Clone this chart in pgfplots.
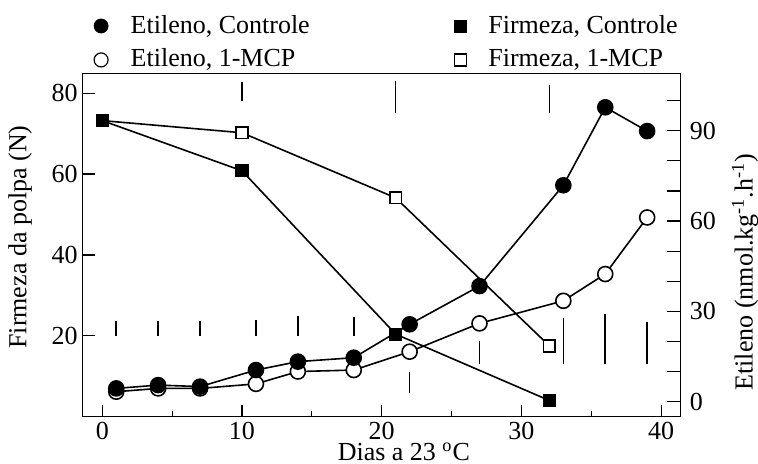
\documentclass[border=0pt]{standalone}
\usepackage{fontspec}
\setmainfont{Liberation Serif}
\usepackage{pgfplots}
\pgfplotsset{compat=1.18}

\pgfplotstableread{
x y
0 73.2
10 70.2
21 54.1
32 17.5
}\firmmcp
\pgfplotstableread{
x y
0 73.2
10 60.8
21 20.4
32 4.0
}\firmctrl
\pgfplotstableread{
x y
1 4.4
4 5.5
7 5.0
11 10.5
14 13.3
18 14.6
22 25.7
27 38.4
33 71.9
36 97.8
39 89.9
}\etictrl
\pgfplotstableread{
x y
1 3.3
4 4.4
7 4.4
11 5.9
14 10.0
18 10.5
22 16.6
27 26.0
33 33.5
36 42.4
39 61.2
}\etimcp

\begin{document}
\fontsize{13}{15}\selectfont
\begin{tikzpicture}
\pgfplotsset{
  common/.style={
    scale only axis, width=299pt, height=171.7pt,
    xmin=-1.4, xmax=41.4,
    tick align=inside,
    /pgf/number format/assume math mode=true,
    tick label style={font=\fontsize{13}{15}\selectfont},
    label style={font=\fontsize{13}{15}\selectfont},
    axis line style={line width=0.7pt},
    every tick/.style={black, line width=0.6pt},
    clip=false,
  },
  circ/.style={mark=*, mark size=3.75pt, mark options={xscale=1.33, line width=0.7pt}},
  sq/.style={mark=square*, mark size=2.9pt, mark options={xscale=1.5, line width=0.7pt}},
  limgc/.style={legend image code/.code={\draw[##1] plot coordinates {(0pt,0pt)}; \path (0pt,0pt) (12.5pt,0pt);}},
  limgs/.style={legend image code/.code={\draw[##1] plot coordinates {(0pt,0pt)}; \path (0pt,0pt) (11.5pt,0pt);}},
}
\begin{axis}[common, name=main,
  ymin=0, ymax=84.9,
  xtick={0,10,20,30,40}, minor xtick={5,15,25,35}, xtick pos=bottom,
  ytick={20,40,60,80}, ytick pos=left,
  yticklabel style={xshift=2pt},
  xticklabel style={yshift=2pt},
  major tick length=6pt, minor tick length=3pt,
  xlabel={Dias a 23 \textsuperscript{o}C},
  every axis x label/.style={at={(axis description cs:0.537,-0.128)}, anchor=base},
  ylabel={Firmeza da polpa (N)},
  every axis y label/.style={at={(axis description cs:-0.1048,0.523)}, rotate=90, anchor=center},
]
\addplot[black, line width=0.8pt, sq, mark options={fill=white}] table {\firmmcp};
\addplot[black, line width=0.8pt, sq, mark options={fill=black}] table {\firmctrl};
\addplot[black, line width=0.8pt, unbounded coords=jump] coordinates {
  (10,82.8) (10,78.1) (10,nan)
  (21,83.0) (21,75.1) (21,nan)
  (32,82.0) (32,75.1)
};
\end{axis}
\begin{axis}[common,
  ymin=-5, ymax=109.1,
  axis y line*=right, axis x line=none,
  ytick={0,30,60,90}, minor ytick={10,20,40,50,70,80,100},
  major tick length=7pt, minor tick length=7pt,
  ylabel={Etileno (nmol.kg\textsuperscript{-1}.h\textsuperscript{-1})},
  every axis y label/.style={at={(axis description cs:1.1075,0.421)}, rotate=90, anchor=center},
  legend columns=2, legend cell align=left,
  legend style={draw=none, fill=none, font=\fontsize{13}{15}\selectfont,
    at={(axis description cs:0,1)}, anchor=south west, xshift=5.5pt, yshift=-1pt,
    inner sep=0pt, row sep=2pt,
    /tikz/every even column/.append style={column sep=70.5pt}},
]
\addplot[black, line width=0.8pt, circ, mark options={fill=white}, forget plot] table {\etimcp};
\addplot[black, line width=0.8pt, circ, mark options={fill=black}, forget plot] table {\etictrl};
\addplot[black, line width=0.8pt, unbounded coords=jump, forget plot] coordinates {
  (1,21.8) (1,26.9) (1,nan)
  (4,21.8) (4,26.9) (4,nan)
  (7,21.8) (7,26.9) (7,nan)
  (11,21.8) (11,27.1) (11,nan)
  (14,21.8) (14,28.5) (14,nan)
  (18,21.8) (18,28.0) (18,nan)
  (22,3.0) (22,10.0) (22,nan)
  (27,12.5) (27,20.3) (27,nan)
  (33,12.4) (33,27.7) (33,nan)
  (36,12.4) (36,29.1) (36,nan)
  (39,12.4) (39,26.4)
};
\addlegendimage{only marks, mark=*, mark size=3.5pt, fill=black, limgc}
\addlegendentry{Etileno, Controle}
\addlegendimage{only marks, mark=square*, mark size=3pt, fill=black, limgs}
\addlegendentry{Firmeza, Controle}
\addlegendimage{only marks, mark=o, mark size=3.5pt, line width=0.6pt, limgc}
\addlegendentry{Etileno, 1-MCP}
\addlegendimage{only marks, mark=square, mark size=3pt, line width=0.6pt, limgs}
\addlegendentry{Firmeza, 1-MCP}
\end{axis}
\pgfresetboundingbox
\path[use as bounding box] ([shift={(-41.35pt,-23.65pt)}]main.south west) rectangle ([shift={(38.65pt,36.65pt)}]main.north east);
\end{tikzpicture}
\end{document}
